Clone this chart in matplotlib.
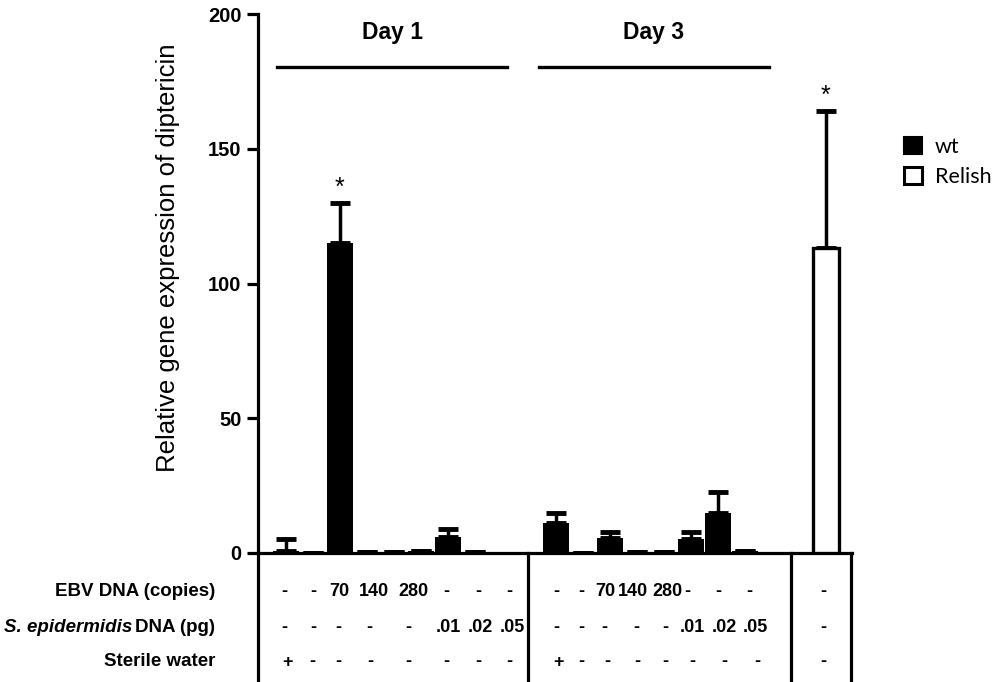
import matplotlib
matplotlib.use("Agg")
import matplotlib.pyplot as plt
from matplotlib.patches import Patch
from matplotlib.lines import Line2D
import numpy as np

plt.rcParams['font.family'] = ['Liberation Sans', 'DejaVu Sans']

# ---- data ----
day1_values = [0.7, 0.0, 115.0, 0.3, 0.2, 0.8, 5.9, 0.2]
day1_err    = [4.5, 0.0, 15.0, 0.0, 0.0, 0.0, 3.0, 0.0]
day3_values = [11.1, 0.0, 5.5, 0.5, 0.3, 5.2, 14.8, 0.8]
day3_err    = [3.7, 0.0, 2.4, 0.0, 0.0, 2.7, 7.8, 0.0]
relish_values = [113.0]
relish_err    = [51.0]

ebv_row = ['-', '-', '70', '140', '280', '-', '-', '-']
sepi_row = ['-', '-', '-', '-', '-', '.01', '.02', '.05']
water_row = ['+', '-', '-', '-', '-', '-', '-', '-']
relish_rows = ['-', '-', '-']
row_labels = ['EBV DNA (copies)', 'DNA (pg)', 'Sterile water']
species_label = 'S. epidermidis'
group_labels = ['Day 1', 'Day 3']
legend_labels = ['wt', 'Relish']
yticks = [0, 50, 100, 150, 200]

# ---- layout (pixel-derived) ----
W, H = 997, 682
fig = plt.figure(figsize=(W / 100, H / 100), dpi=100)
px0, px1 = 258, 852
py0, py1 = 553, 14
ax = fig.add_axes([px0 / W, (H - py0) / H, (px1 - px0) / W, (py0 - py1) / H])

x_left, x_right = -1.02, 20.98
ax.set_xlim(x_left, x_right)
ax.set_ylim(0, 200)

def px_to_x(p):
    return x_left + (p - px0) / (px1 - px0) * (x_right - x_left)

def py_to_y(p):
    return (py0 - p) / (py0 - py1) * 200

day1_x = np.arange(8)
day3_x = np.arange(10, 18)
relish_x = np.array([20])

ekw = dict(elinewidth=2.5, capsize=7.5, capthick=3.5, ecolor='black')
ax.bar(day1_x, day1_values, width=0.96, color='black', zorder=3)
ax.errorbar(day1_x, day1_values, yerr=[np.zeros(8), day1_err], fmt='none', zorder=2, **ekw)
ax.bar(day3_x, day3_values, width=0.96, color='black', zorder=3)
ax.errorbar(day3_x, day3_values, yerr=[np.zeros(8), day3_err], fmt='none', zorder=2, **ekw)
ax.bar(relish_x, relish_values, width=0.96, color='white', edgecolor='black', linewidth=2.4, zorder=3)
ax.errorbar(relish_x, relish_values, yerr=[[0], relish_err], fmt='none', zorder=2, **ekw)

# stars
for xx, v, e in [(day1_x[2], day1_values[2], day1_err[2]), (relish_x[0], relish_values[0], relish_err[0])]:
    ax.text(xx, v + e + 1.0, '*', ha='center', va='bottom', fontsize=18)

# spines / ticks
for s in ['top', 'right']:
    ax.spines[s].set_visible(False)
ax.spines['left'].set_linewidth(2.3)
ax.spines['bottom'].set_linewidth(2.3)
ax.set_xticks([])
ax.set_yticks(yticks)
ax.set_yticklabels([str(t) for t in yticks], fontweight='bold', fontsize=14.5)
ax.tick_params(axis='y', direction='out', length=8, width=2.3, pad=4)
ax.set_ylabel('Relative gene expression of diptericin', fontsize=18.5)
ax.yaxis.set_label_coords((180 - px0) / (px1 - px0), py_to_y(258) / 200)

# group brackets
for (a, b), lab in zip([(277, 507), (539, 769)], group_labels):
    yb = py_to_y(67)
    ax.plot([px_to_x(a), px_to_x(b)], [yb, yb], color='black', lw=2.4, clip_on=False)
    ax.text(px_to_x((a + b) / 2), py_to_y(33), lab, ha='center', va='center',
            fontsize=16.5, fontweight='bold')

# table separator lines below axis
ybot = py_to_y(684)
for p in [px0, 528, 791, 851]:
    xx = px_to_x(p)
    ax.add_line(Line2D([xx, xx], [0, ybot], color='black', lw=2.3, clip_on=False))

# table text
row_py = [591, 627, 662]
day1_cols = [[284, 313, 339, 374, 413, 446, 478, 509],
             [284, 313, 338, 369, 408, 448, 480, 512],
             [287, 312, 338, 370, 408, 446, 478, 509]]
day3_cols = [[556, 581, 605, 633, 667, 687, 718, 749],
             [556, 581, 604, 636, 665, 692, 724, 755],
             [559, 581, 607, 637, 665, 692, 724, 757]]
rows = [ebv_row, sepi_row, water_row]
tfs = 13
for r in range(3):
    yy = py_to_y(row_py[r])
    for c in range(8):
        ax.text(px_to_x(day1_cols[r][c]), yy, rows[r][c], ha='center', va='center',
                fontsize=tfs, fontweight='bold', clip_on=False)
        ax.text(px_to_x(day3_cols[r][c]), yy, rows[r][c], ha='center', va='center',
                fontsize=tfs, fontweight='bold', clip_on=False)
    ax.text(px_to_x(823), yy, relish_rows[r], ha='center', va='center',
            fontsize=tfs, fontweight='bold', clip_on=False)

# row labels
lx = 215 / W
lfs = 13.5
fig.text(lx, 1 - row_py[0] / H, row_labels[0], ha='right', va='center', fontsize=lfs, fontweight='bold')
t_dna = fig.text(lx, 1 - row_py[1] / H, row_labels[1], ha='right', va='center',
                 fontsize=lfs, fontweight='bold')
fig.text(lx, 1 - row_py[2] / H, row_labels[2], ha='right', va='center', fontsize=lfs, fontweight='bold')
fig.canvas.draw()
bb = t_dna.get_window_extent(fig.canvas.get_renderer())
fig.text((bb.x0 - 3) / W, 1 - row_py[1] / H, species_label, ha='right', va='center',
         fontsize=lfs, fontweight='bold', fontstyle='italic')

# legend
handles = [Patch(facecolor='black', edgecolor='black', linewidth=1.5),
           Patch(facecolor='white', edgecolor='black', linewidth=2.2)]
fig.legend(handles, legend_labels, loc='upper left', bbox_to_anchor=(904 / W, 1 - 137 / H),
           frameon=False, handlelength=0.82, handleheight=0.82, borderpad=0, borderaxespad=0,
           handletextpad=0.6, labelspacing=0.45, prop={'family': 'Lato', 'size': 15.5})

fig.savefig('out.png', dpi=100)
